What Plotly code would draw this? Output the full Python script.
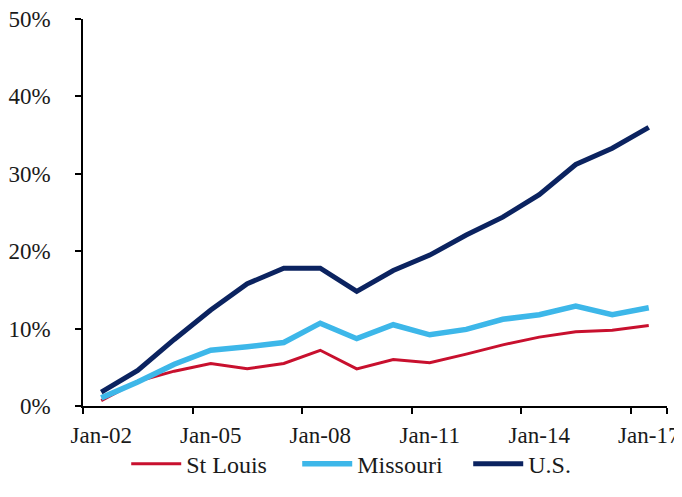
import plotly.graph_objects as go

categories = ["Jan-02", "Jan-03", "Jan-04", "Jan-05", "Jan-06", "Jan-07", "Jan-08", "Jan-09",
              "Jan-10", "Jan-11", "Jan-12", "Jan-13", "Jan-14", "Jan-15", "Jan-16", "Jan-17"]
st_louis = [0.7, 3.2, 4.5, 5.5, 4.8, 5.5, 7.2, 4.8, 6.0, 5.6, 6.7, 7.9, 8.9, 9.6, 9.8, 10.4]
missouri = [1.05, 3.1, 5.4, 7.2, 7.65, 8.2, 10.7, 8.7, 10.5, 9.2, 9.9, 11.2, 11.8, 12.9, 11.8, 12.7]
us = [1.8, 4.6, 8.6, 12.4, 15.8, 17.8, 17.8, 14.8, 17.5, 19.5, 22.1, 24.4, 27.3, 31.2, 33.3, 36.0]
tick_labels = ["Jan-02", "Jan-05", "Jan-08", "Jan-11", "Jan-14", "Jan-17"]
y_ticks = [0, 10, 20, 30, 40, 50]

FONT = "Liberation Serif, Times New Roman, serif"

fig = go.Figure()
fig.add_trace(go.Scatter(x=categories, y=st_louis, name="St Louis", mode="lines",
                         line=dict(color="#C8102E", width=3)))
fig.add_trace(go.Scatter(x=categories, y=missouri, name="Missouri", mode="lines",
                         line=dict(color="#3DB7E9", width=5.5)))
fig.add_trace(go.Scatter(x=categories, y=us, name="U.S.", mode="lines",
                         line=dict(color="#0B2360", width=5)))

fig.update_layout(
    width=674, height=489,
    margin=dict(l=75, r=15, t=11, b=86),
    paper_bgcolor="white", plot_bgcolor="white",
    font=dict(family=FONT, size=24, color="#1a1a1a"),
    showlegend=True,
    legend=dict(orientation="h", x=0.074, xanchor="left", y=-0.15, yanchor="middle",
                font=dict(size=24), itemwidth=50, traceorder="normal",
                entrywidth=106, entrywidthmode="pixels",
                bgcolor="rgba(0,0,0,0)"),
    xaxis=dict(type="category", range=[-0.5, 15.5], tickson="boundaries",
               tickmode="array", tickvals=tick_labels, ticktext=tick_labels,
               tickangle=0, automargin=False, ticklabelstandoff=8,
               tickfont=dict(size=23),
               showline=True, linecolor="black", linewidth=1.5,
               ticks="outside", ticklen=6, tickcolor="black", tickwidth=1.5,
               showgrid=False, zeroline=False),
    yaxis=dict(range=[0, 50], tickmode="array", tickvals=y_ticks,
               ticktext=[f"{v}%" for v in y_ticks], automargin=False,
               ticklabelstandoff=20, ticklabeloverflow="allow",
               tickfont=dict(size=23),
               showline=True, linecolor="black", linewidth=1.5,
               ticks="outside", ticklen=6, tickcolor="black", tickwidth=1.5,
               showgrid=False, zeroline=False),
)

fig.write_html("out.html")
